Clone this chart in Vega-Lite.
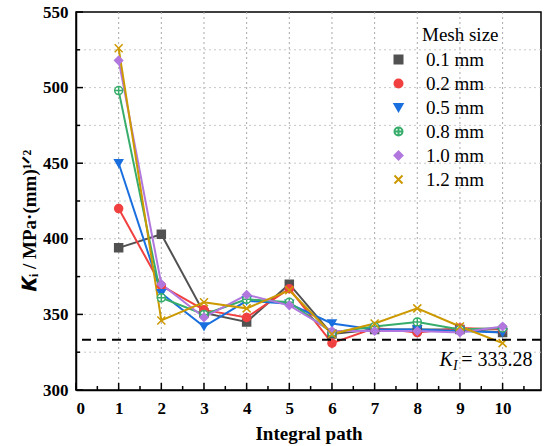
{
  "$schema": "https://vega.github.io/schema/vega-lite/v6.json",
  "width": 465,
  "height": 378,
  "autosize": "none",
  "padding": {"left": 76, "top": 12, "right": 6, "bottom": 56},
  "background": "white",
  "config": {
    "view": {"stroke": "black", "strokeWidth": 1.5},
    "font": "Liberation Serif",
    "axis": {
      "grid": false,
      "ticks": false,
      "domainColor": "black",
      "domainWidth": 1.5,
      "labelFont": "Liberation Serif",
      "labelFontWeight": "bold",
      "labelFontSize": 17,
      "labelColor": "black",
      "titleFont": "Liberation Serif",
      "titleFontWeight": "bold",
      "titleFontSize": 19,
      "titleColor": "black"
    }
  },
  "data": {
    "values": [
      {"path": 1, "K": 394, "mesh": "0.1 mm"},
      {"path": 2, "K": 403, "mesh": "0.1 mm"},
      {"path": 3, "K": 351, "mesh": "0.1 mm"},
      {"path": 4, "K": 345, "mesh": "0.1 mm"},
      {"path": 5, "K": 370, "mesh": "0.1 mm"},
      {"path": 6, "K": 337, "mesh": "0.1 mm"},
      {"path": 7, "K": 340, "mesh": "0.1 mm"},
      {"path": 8, "K": 340, "mesh": "0.1 mm"},
      {"path": 9, "K": 340, "mesh": "0.1 mm"},
      {"path": 10, "K": 338, "mesh": "0.1 mm"},
      {"path": 1, "K": 420, "mesh": "0.2 mm"},
      {"path": 2, "K": 369, "mesh": "0.2 mm"},
      {"path": 3, "K": 353, "mesh": "0.2 mm"},
      {"path": 4, "K": 348, "mesh": "0.2 mm"},
      {"path": 5, "K": 367, "mesh": "0.2 mm"},
      {"path": 6, "K": 331, "mesh": "0.2 mm"},
      {"path": 7, "K": 341, "mesh": "0.2 mm"},
      {"path": 8, "K": 338, "mesh": "0.2 mm"},
      {"path": 9, "K": 341, "mesh": "0.2 mm"},
      {"path": 10, "K": 340, "mesh": "0.2 mm"},
      {"path": 1, "K": 450, "mesh": "0.5 mm"},
      {"path": 2, "K": 364, "mesh": "0.5 mm"},
      {"path": 3, "K": 342, "mesh": "0.5 mm"},
      {"path": 4, "K": 359, "mesh": "0.5 mm"},
      {"path": 5, "K": 357, "mesh": "0.5 mm"},
      {"path": 6, "K": 344, "mesh": "0.5 mm"},
      {"path": 7, "K": 340, "mesh": "0.5 mm"},
      {"path": 8, "K": 340, "mesh": "0.5 mm"},
      {"path": 9, "K": 339, "mesh": "0.5 mm"},
      {"path": 10, "K": 338, "mesh": "0.5 mm"},
      {"path": 1, "K": 498, "mesh": "0.8 mm"},
      {"path": 2, "K": 361, "mesh": "0.8 mm"},
      {"path": 3, "K": 350, "mesh": "0.8 mm"},
      {"path": 4, "K": 360, "mesh": "0.8 mm"},
      {"path": 5, "K": 358, "mesh": "0.8 mm"},
      {"path": 6, "K": 338, "mesh": "0.8 mm"},
      {"path": 7, "K": 342, "mesh": "0.8 mm"},
      {"path": 8, "K": 345, "mesh": "0.8 mm"},
      {"path": 9, "K": 340, "mesh": "0.8 mm"},
      {"path": 10, "K": 341, "mesh": "0.8 mm"},
      {"path": 1, "K": 518, "mesh": "1.0 mm"},
      {"path": 2, "K": 370, "mesh": "1.0 mm"},
      {"path": 3, "K": 348, "mesh": "1.0 mm"},
      {"path": 4, "K": 363, "mesh": "1.0 mm"},
      {"path": 5, "K": 356, "mesh": "1.0 mm"},
      {"path": 6, "K": 339, "mesh": "1.0 mm"},
      {"path": 7, "K": 339, "mesh": "1.0 mm"},
      {"path": 8, "K": 339, "mesh": "1.0 mm"},
      {"path": 9, "K": 338, "mesh": "1.0 mm"},
      {"path": 10, "K": 342, "mesh": "1.0 mm"},
      {"path": 1, "K": 526, "mesh": "1.2 mm"},
      {"path": 2, "K": 346, "mesh": "1.2 mm"},
      {"path": 3, "K": 358, "mesh": "1.2 mm"},
      {"path": 4, "K": 354, "mesh": "1.2 mm"},
      {"path": 5, "K": 366, "mesh": "1.2 mm"},
      {"path": 6, "K": 337, "mesh": "1.2 mm"},
      {"path": 7, "K": 344, "mesh": "1.2 mm"},
      {"path": 8, "K": 354, "mesh": "1.2 mm"},
      {"path": 9, "K": 342, "mesh": "1.2 mm"},
      {"path": 10, "K": 331, "mesh": "1.2 mm"}
    ]
  },
  "layer": [
    {
      "data": {"values": [{"g": 1}, {"g": 2}, {"g": 3}, {"g": 4}, {"g": 5}, {"g": 6}, {"g": 7}, {"g": 8}, {"g": 9}, {"g": 10}]},
      "mark": {"type": "rule", "color": "#a8a8a8", "strokeWidth": 1, "strokeDash": [2, 3]},
      "encoding": {"x": {"field": "g", "type": "quantitative", "title": "Integral path"}}
    },
    {
      "data": {"values": [{"g": 325}, {"g": 350}, {"g": 375}, {"g": 400}, {"g": 425}, {"g": 450}, {"g": 475}, {"g": 500}, {"g": 525}]},
      "mark": {"type": "rule", "color": "#c8c8c8", "strokeWidth": 1, "strokeDash": [2, 3]},
      "encoding": {"y": {"field": "g", "type": "quantitative", "title": "𝑲ᵢ / MPa·(mm)¹ᐟ²"}}
    },
    {
      "mark": {"type": "line", "strokeWidth": 2},
      "encoding": {
        "x": {
          "field": "path",
          "type": "quantitative",
          "title": "Integral path",
          "scale": {"domain": [0, 10.9], "nice": false, "zero": false},
          "axis": {
            "values": [0, 1, 2, 3, 4, 5, 6, 7, 8, 9, 10],
            "format": "d",
            "labelPadding": 10,
            "titlePadding": 8
          }
        },
        "y": {
          "field": "K",
          "type": "quantitative",
          "title": "𝑲ᵢ / MPa·(mm)¹ᐟ²",
          "scale": {"domain": [300, 550], "nice": false, "zero": false},
          "axis": {
            "values": [300, 350, 400, 450, 500, 550],
            "format": "d",
            "labelPadding": 8,
            "titlePadding": 3,
            "titleY": 208
          }
        },
        "stroke": {
          "field": "mesh",
          "type": "nominal",
          "scale": {
            "domain": ["0.1 mm", "0.2 mm", "0.5 mm", "0.8 mm", "1.0 mm", "1.2 mm"],
            "range": ["#515151", "#F14040", "#1A6FDF", "#37AD6B", "#B177DE", "#CC9900"]
          },
          "title": "Mesh size"
        },
        "detail": {"field": "mesh"}
      }
    },
    {
      "mark": {"type": "point", "size": 64, "strokeWidth": 1.5, "opacity": 1},
      "encoding": {
        "x": {"field": "path", "type": "quantitative", "title": "Integral path"},
        "y": {"field": "K", "type": "quantitative", "title": "𝑲ᵢ / MPa·(mm)¹ᐟ²"},
        "stroke": {"field": "mesh", "type": "nominal", "title": "Mesh size"},
        "fill": {
          "field": "mesh",
          "type": "nominal",
          "scale": {
            "domain": ["0.1 mm", "0.2 mm", "0.5 mm", "0.8 mm", "1.0 mm", "1.2 mm"],
            "range": ["#515151", "#F14040", "#1A6FDF", "#ffffff", "#B177DE", "#CC9900"]
          },
          "title": "Mesh size"
        },
        "shape": {
          "field": "mesh",
          "type": "nominal",
          "scale": {
            "domain": ["0.1 mm", "0.2 mm", "0.5 mm", "0.8 mm", "1.0 mm", "1.2 mm"],
            "range": ["square", "circle", "triangle-down", "M-1,0A1,1,0,1,1,1,0A1,1,0,1,1,-1,0ZM-1,0H1M0,-1V1", "diamond", "M-1,-1L1,1M-1,1L1,-1"]
          },
          "title": "Mesh size",
          "legend": {
            "orient": "none",
            "legendX": 346,
            "legendY": 14,
            "titleFont": "Liberation Serif",
            "titleFontWeight": "normal",
            "titleFontSize": 19,
            "titleColor": "black",
            "titlePadding": 5,
            "labelFont": "Liberation Serif",
            "labelFontSize": 19,
            "labelColor": "black",
            "labelOffset": 18,
            "symbolOffset": -33,
            "rowPadding": 4,
            "symbolSize": 64,
            "symbolStrokeWidth": 2
          }
        }
      }
    },
    {
      "data": {"values": [{"ref": "KI"}]},
      "mark": {"type": "rule", "strokeWidth": 2, "strokeDash": [9, 6], "color": "black"},
      "encoding": {"y": {"datum": 333.28}}
    },
    {
      "data": {"values": [{"label": "K"}]},
      "mark": {"type": "text", "align": "left", "baseline": "alphabetic", "font": "Liberation Serif", "fontStyle": "italic", "fontSize": 20, "color": "black"},
      "encoding": {"x": {"datum": 8.52}, "y": {"datum": 316}, "text": {"field": "label"}}
    },
    {
      "data": {"values": [{"label": "I"}]},
      "mark": {"type": "text", "align": "left", "baseline": "alphabetic", "font": "Liberation Serif", "fontStyle": "italic", "fontSize": 14, "color": "black"},
      "encoding": {"x": {"datum": 8.84}, "y": {"datum": 313.2}, "text": {"field": "label"}}
    },
    {
      "data": {"values": [{"label": "= 333.28"}]},
      "mark": {"type": "text", "align": "left", "baseline": "alphabetic", "font": "Liberation Serif", "fontSize": 20, "color": "black"},
      "encoding": {"x": {"datum": 9.03}, "y": {"datum": 316}, "text": {"field": "label"}}
    },
    {
      "data": {"values": [{"t": 0}, {"t": 1}, {"t": 2}, {"t": 3}, {"t": 4}, {"t": 5}, {"t": 6}, {"t": 7}, {"t": 8}, {"t": 9}, {"t": 10}]},
      "mark": {"type": "tick", "orient": "vertical", "size": 7, "thickness": 1.5, "yOffset": -3.5, "color": "black", "opacity": 1},
      "encoding": {"x": {"field": "t", "type": "quantitative", "title": "Integral path"}, "y": {"datum": 300}}
    },
    {
      "data": {"values": [{"t": 0.5}, {"t": 1.5}, {"t": 2.5}, {"t": 3.5}, {"t": 4.5}, {"t": 5.5}, {"t": 6.5}, {"t": 7.5}, {"t": 8.5}, {"t": 9.5}, {"t": 10.5}]},
      "mark": {"type": "tick", "orient": "vertical", "size": 4, "thickness": 1.5, "yOffset": -2, "color": "black", "opacity": 1},
      "encoding": {"x": {"field": "t", "type": "quantitative", "title": "Integral path"}, "y": {"datum": 300}}
    },
    {
      "data": {"values": [{"t": 300}, {"t": 350}, {"t": 400}, {"t": 450}, {"t": 500}, {"t": 550}]},
      "mark": {"type": "tick", "orient": "horizontal", "size": 7, "thickness": 1.5, "xOffset": 3.5, "color": "black", "opacity": 1},
      "encoding": {"y": {"field": "t", "type": "quantitative", "title": "𝑲ᵢ / MPa·(mm)¹ᐟ²"}, "x": {"datum": 0}}
    },
    {
      "data": {"values": [{"t": 325}, {"t": 375}, {"t": 425}, {"t": 475}, {"t": 525}]},
      "mark": {"type": "tick", "orient": "horizontal", "size": 4, "thickness": 1.5, "xOffset": 2, "color": "black", "opacity": 1},
      "encoding": {"y": {"field": "t", "type": "quantitative", "title": "𝑲ᵢ / MPa·(mm)¹ᐟ²"}, "x": {"datum": 0}}
    }
  ]
}
